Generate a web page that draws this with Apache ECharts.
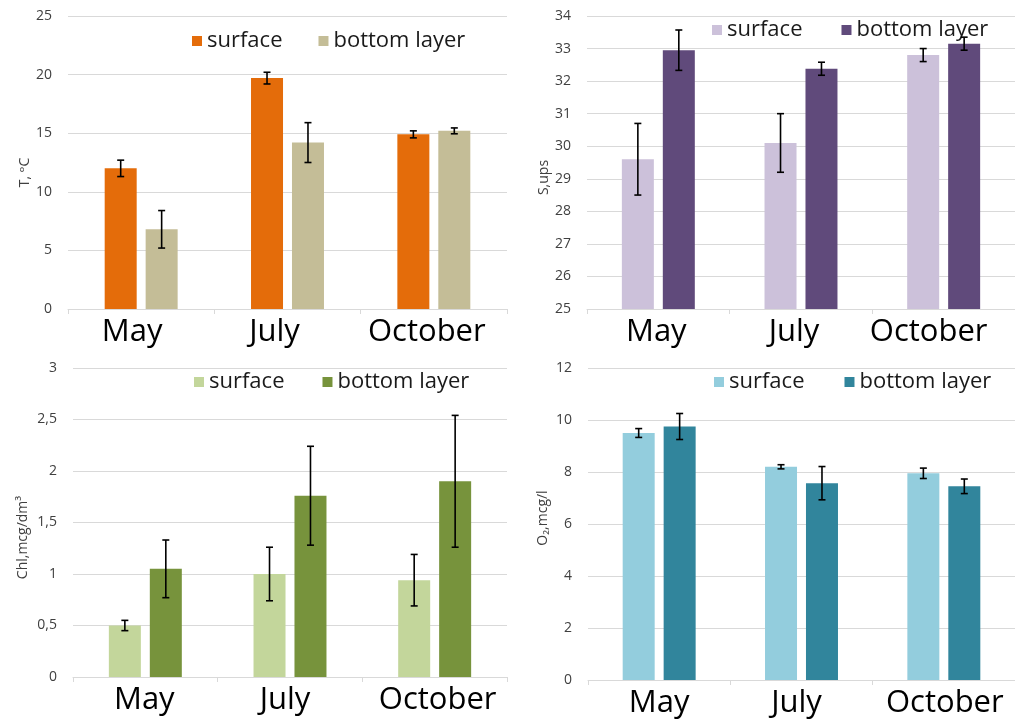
<!DOCTYPE html>
<html>
<head>
<meta charset="utf-8">
<title>Water column parameters by month</title>
<script src="https://cdn.jsdelivr.net/npm/echarts@6/dist/echarts.min.js"></script>
<style>
  html, body { margin: 0; padding: 0; background: #ffffff; }
  #chart { width: 1015px; height: 720px; }
</style>
</head>
<body>
<div id="chart"></div>
<script>
// Categories
const months = ['May', 'July', 'October'];

// Temperature, °C
const tSurface = [12.0, 19.7, 14.9];
const tSurfaceErr = [0.7, 0.5, 0.3];
const tBottom = [6.8, 14.2, 15.2];
const tBottomErr = [1.6, 1.7, 0.25];

// Salinity, ups
const sSurface = [29.6, 30.1, 32.8];
const sSurfaceErr = [1.1, 0.9, 0.2];
const sBottom = [32.95, 32.38, 33.15];
const sBottomErr = [0.62, 0.2, 0.2];

// Chlorophyll, mcg/dm3
const chlSurface = [0.5, 1.0, 0.94];
const chlSurfaceErr = [0.05, 0.26, 0.25];
const chlBottom = [1.05, 1.76, 1.9];
const chlBottomErr = [0.28, 0.48, 0.64];

// Dissolved oxygen, mcg/l
const o2Surface = [9.5, 8.2, 7.95];
const o2SurfaceErr = [0.17, 0.08, 0.2];
const o2Bottom = [9.75, 7.57, 7.45];
const o2BottomErr = [0.5, 0.64, 0.28];

// Layer names shown in legends
const layerNames = ['surface', 'bottom layer'];

const FONT = "'Open Sans', 'DejaVu Sans', sans-serif";
const BAR_W = 32;
const BAR_GAP = '28%';
const GRID_LINE = '#d9d9d9';

const panels = [
  {
    key: 'T', grid: { left: 68, top: 16, width: 439, height: 293 },
    y: { min: 0, max: 25, interval: 5 },
    name: 'T, ᵒC', nameGap: 36, namePad: [0, 20, 0, 0],
    colors: ['#E46C0A', '#C4BD97'],
    surface: tSurface, surfaceErr: tSurfaceErr, bottom: tBottom, bottomErr: tBottomErr,
    legend: { left: 192, top: 30, itemGap: 36 },
    labelShift: [-9, -13, -7]
  },
  {
    key: 'S', grid: { left: 587, top: 16, width: 438, height: 293 },
    y: { min: 25, max: 34, interval: 1 },
    name: 'S,ups', nameGap: 36, namePad: [0, 30, 0, 0],
    colors: ['#CCC1DA', '#604A7B'],
    surface: sSurface, surfaceErr: sSurfaceErr, bottom: sBottom, bottomErr: sBottomErr,
    legend: { left: 712, top: 19, itemGap: 39 },
    labelShift: [-2, -7, -15]
  },
  {
    key: 'Chl', grid: { left: 73, top: 368, width: 434, height: 309 },
    y: { min: 0, max: 3, interval: 0.5 },
    name: 'Chl,mcg/dm³', nameGap: 43, namePad: [0, 30, 0, 0],
    colors: ['#C3D69B', '#77933C'],
    surface: chlSurface, surfaceErr: chlSurfaceErr, bottom: chlBottom, bottomErr: chlBottomErr,
    legend: { left: 194, top: 371, itemGap: 38 },
    labelShift: [-1, -5, 3],
    comma: true
  },
  {
    key: 'O2', grid: { left: 588, top: 368, width: 438, height: 312 },
    y: { min: 0, max: 12, interval: 2 },
    name: 'O₂,mcg/l', nameGap: 38, namePad: [0, 0, 0, 12],
    colors: ['#93CDDD', '#31859C'],
    surface: o2Surface, surfaceErr: o2SurfaceErr, bottom: o2Bottom, bottomErr: o2BottomErr,
    legend: { left: 714, top: 371, itemGap: 40 },
    labelShift: [0, -5, 1]
  }
];

// Error bar drawn at the centre of the k-th bar of a two-bar group
function errorBarRenderer(k) {
  return function (params, api) {
    const layout = api.barLayout({ count: 2, barWidth: BAR_W, barGap: BAR_GAP });
    const cat = api.value(0);
    const val = api.value(1);
    const err = api.value(2);
    const x = api.coord([cat, val])[0] + layout[k].offsetCenter;
    const yHi = api.coord([cat, val + err])[1];
    const yLo = api.coord([cat, val - err])[1];
    const cap = 3.5;
    const style = { stroke: '#000000', lineWidth: 1.6 };
    return {
      type: 'group',
      children: [
        { type: 'line', shape: { x1: x, y1: yHi, x2: x, y2: yLo }, style: style },
        { type: 'line', shape: { x1: x - cap, y1: yHi, x2: x + cap, y2: yHi }, style: style },
        { type: 'line', shape: { x1: x - cap, y1: yLo, x2: x + cap, y2: yLo }, style: style }
      ]
    };
  };
}

// Per-label horizontal nudge for the month labels (centered text, so padding = 2 × shift)
function monthRich(shifts) {
  const rich = {};
  shifts.forEach(function (d, j) {
    rich['m' + j] = {
      fontSize: 31, fontFamily: FONT, color: '#000000',
      padding: d < 0 ? [0, -2 * d, 0, 0] : [0, 0, 0, 2 * d]
    };
  });
  return rich;
}

const option = {
  backgroundColor: '#ffffff',
  animation: false,
  grid: [], xAxis: [], yAxis: [], legend: [], series: []
};

panels.forEach(function (p, i) {
  option.grid.push(Object.assign({ containLabel: false }, p.grid));
  option.xAxis.push({
    type: 'category', gridIndex: i, data: months,
    axisLine: { lineStyle: { color: GRID_LINE, width: 1 } },
    axisTick: { show: true, length: 5, lineStyle: { color: GRID_LINE } },
    axisLabel: {
      color: '#000000', fontSize: 31, fontFamily: FONT, margin: 8, interval: 0,
      formatter: function (v, j) { return '{m' + j + '|' + v + '}'; },
      rich: monthRich(p.labelShift)
    }
  });
  option.yAxis.push({
    type: 'value', gridIndex: i,
    min: p.y.min, max: p.y.max, interval: p.y.interval,
    axisLine: { show: false }, axisTick: { show: false },
    splitLine: { lineStyle: { color: GRID_LINE, width: 1 } },
    axisLabel: {
      color: '#404040', fontSize: 14, fontFamily: FONT, margin: 16,
      formatter: p.comma ? function (v) { return String(v).replace('.', ','); } : null
    },
    name: p.name, nameLocation: 'middle', nameGap: p.nameGap,
    nameTextStyle: { color: '#404040', fontSize: 14, fontFamily: FONT, padding: p.namePad }
  });
  const sName = p.key + '|' + layerNames[0];
  const bName = p.key + '|' + layerNames[1];
  option.legend.push({
    left: p.legend.left, top: p.legend.top, itemGap: p.legend.itemGap,
    padding: 0, itemWidth: 10, itemHeight: 10, icon: 'rect',
    data: [sName, bName],
    formatter: function (n) { return n.split('|')[1]; },
    textStyle: { color: '#1a1a1a', fontSize: 22, fontFamily: FONT }
  });
  option.series.push(
    {
      type: 'bar', name: sName, xAxisIndex: i, yAxisIndex: i,
      data: p.surface, barWidth: BAR_W, barGap: BAR_GAP,
      itemStyle: { color: p.colors[0] }
    },
    {
      type: 'bar', name: bName, xAxisIndex: i, yAxisIndex: i,
      data: p.bottom, barWidth: BAR_W, barGap: BAR_GAP,
      itemStyle: { color: p.colors[1] }
    },
    {
      type: 'custom', xAxisIndex: i, yAxisIndex: i, z: 5,
      renderItem: errorBarRenderer(0),
      encode: { x: 0, y: 1 },
      data: p.surface.map(function (v, j) { return [j, v, p.surfaceErr[j]]; })
    },
    {
      type: 'custom', xAxisIndex: i, yAxisIndex: i, z: 5,
      renderItem: errorBarRenderer(1),
      encode: { x: 0, y: 1 },
      data: p.bottom.map(function (v, j) { return [j, v, p.bottomErr[j]]; })
    }
  );
});

const chart = echarts.init(document.getElementById('chart'), null, { renderer: 'canvas' });
chart.setOption(option);
</script>
</body>
</html>
